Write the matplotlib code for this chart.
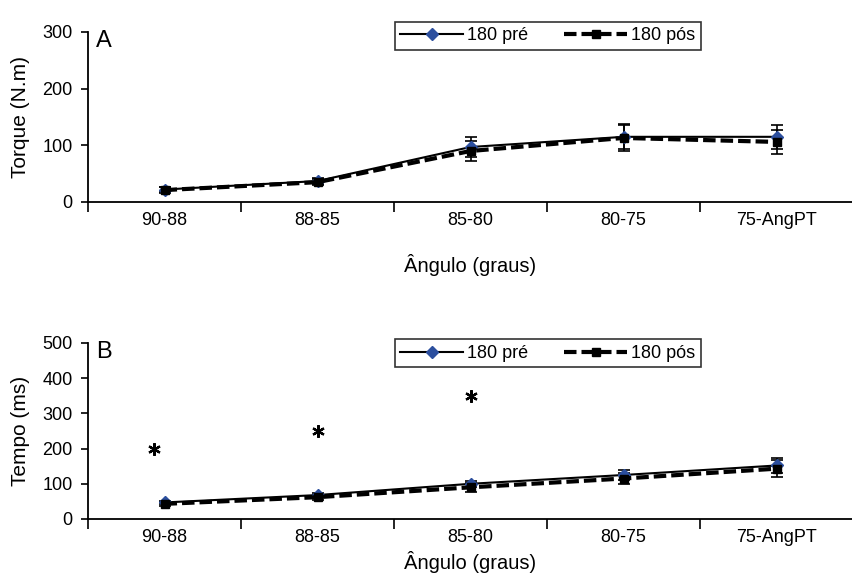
import matplotlib
matplotlib.use("Agg")
import matplotlib.pyplot as plt
import numpy as np

plt.rcParams['font.family'] = ['Liberation Sans', 'DejaVu Sans']

categorias = ['90-88', '88-85', '85-80', '80-75', '75-AngPT']

# painel A - torque
torque_pre = [22, 37, 97, 115, 115]
torque_pos = [21, 35, 90, 113, 106]
torque_pre_err = [5, 5, 18, 22, 21]
torque_pos_err = [5, 5, 17, 23, 21]

# painel B - tempo
tempo_pre = [47, 68, 100, 125, 152]
tempo_pos = [43, 62, 90, 115, 143]
tempo_pre_err = [5, 6, 9, 13, 22]
tempo_pos_err = [5, 7, 13, 17, 25]

# asteriscos (diferença significativa)
asterisco_x = [-0.07, 0.0, 0.0]
asterisco_y = [200, 250, 350]

azul = '#2c4f9e'
x = np.arange(len(categorias))

fig = plt.figure(figsize=(8.53, 5.75), dpi=100)
axA = fig.add_axes([0.1032, 0.6487, 0.8968, 0.2957])
axB = fig.add_axes([0.1032, 0.0974, 0.8968, 0.3061])


def painel(ax, pre, pos, pre_err, pos_err, ymax, ylabel, letra, leg_y, xpad):
    ax.errorbar(x, pre, yerr=pre_err, fmt='none', ecolor='black', elinewidth=1.2, capsize=4, capthick=1.2, zorder=2)
    ax.errorbar(x, pos, yerr=pos_err, fmt='none', ecolor='black', elinewidth=1.2, capsize=4, capthick=1.2, zorder=2)
    ax.plot(x, pre, color='black', lw=1.5, marker='D', ms=6, mfc=azul, mec=azul, label='180 pré', zorder=3)
    ax.plot(x, pos, color='black', lw=3, ls=(0, (3, 1.2)), marker='s', ms=6, mfc='black', mec='black',
            label='180 pós', zorder=4)
    ax.set_xlim(-0.5, 4.5)
    ax.set_ylim(0, ymax)
    ax.set_yticks(np.arange(0, ymax + 1, 100))
    ax.set_xticks(x)
    ax.set_xticklabels(categorias)
    ax.set_xticks(np.arange(-0.5, 4.6, 1), minor=True)
    ax.tick_params(axis='x', which='major', length=0, pad=7, labelsize=13)
    ax.tick_params(axis='x', which='minor', length=7, width=1.2, direction='out')
    ax.tick_params(axis='y', length=5, width=1.2, direction='out', labelsize=13, pad=6)
    for s in ['top', 'right']:
        ax.spines[s].set_visible(False)
    for s in ['left', 'bottom']:
        ax.spines[s].set_linewidth(1.3)
    ax.set_ylabel(ylabel, fontsize=15, labelpad=9)
    ax.set_xlabel('Ângulo (graus)', fontsize=14.5, labelpad=xpad)
    ax.text(0.01, 1.01, letra, transform=ax.transAxes, fontsize=17, va='top', ha='left')
    leg = ax.legend(loc='upper left', bbox_to_anchor=(0.401, leg_y), ncol=2, frameon=True, fancybox=False,
                    edgecolor='black', fontsize=13, handlelength=3.5, columnspacing=2.0,
                    borderpad=0.3, handletextpad=0.2, borderaxespad=0)
    leg.get_frame().set_linewidth(1.2)


painel(axA, torque_pre, torque_pos, torque_pre_err, torque_pos_err, 300, 'Torque (N.m)', 'A', 1.06, 18)
painel(axB, tempo_pre, tempo_pos, tempo_pre_err, tempo_pos_err, 500, 'Tempo (ms)', 'B', 1.02, 4)

axB.plot(x[:3] + np.array(asterisco_x), asterisco_y, ls='none', marker=(6, 2, 0), ms=9, mew=1.6,
         color='black', zorder=5)

fig.savefig('out.png', dpi=100)
